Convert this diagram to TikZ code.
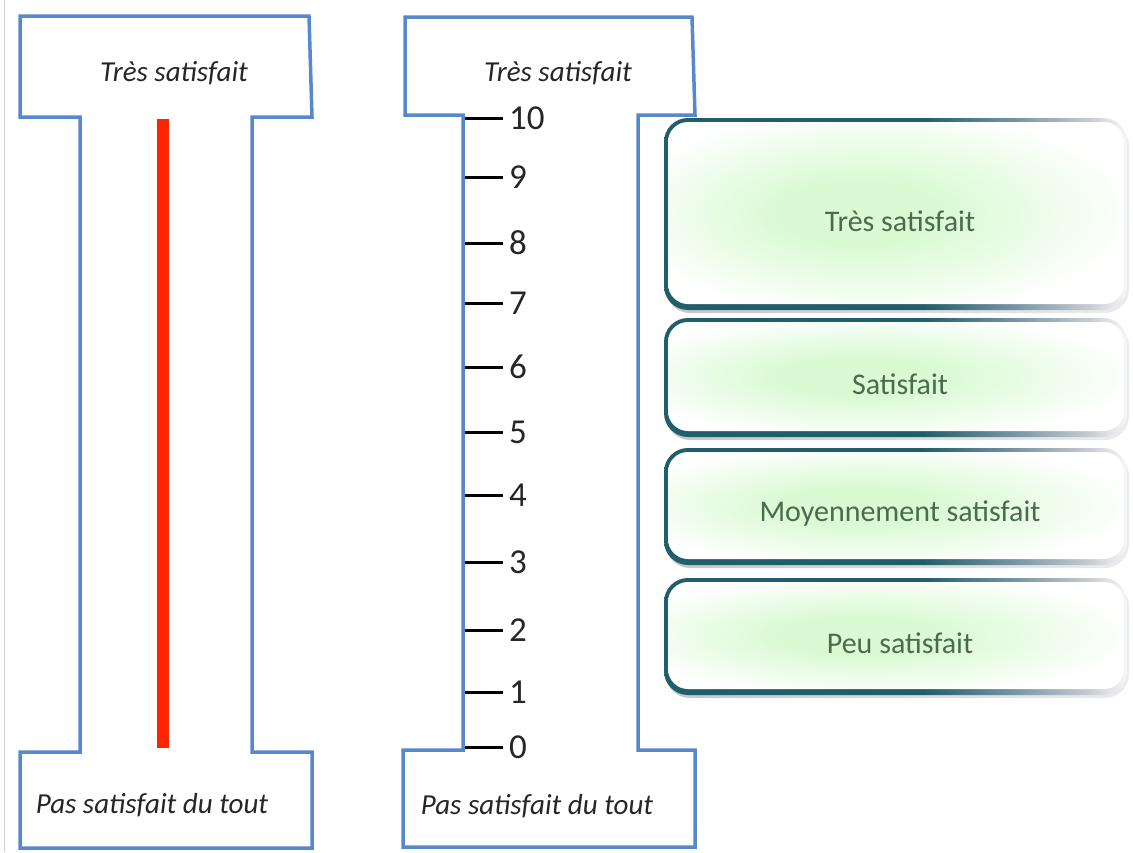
\documentclass[tikz,border=0pt]{standalone}
\usepackage{fontspec}
\setmainfont{Carlito}
\definecolor{iblue}{RGB}{88,136,204}
\definecolor{ired}{RGB}{255,36,0}
\definecolor{bdark}{RGB}{32,94,108}
\definecolor{bmid}{RGB}{120,150,165}
\definecolor{bgray}{RGB}{200,204,210}
\definecolor{gtext}{RGB}{74,108,76}
\definecolor{glow}{RGB}{218,250,212}
\pgfdeclarehorizontalshading{boxborder}{100bp}{color(0bp)=(bdark); color(25bp)=(bdark); color(53bp)=(bdark); color(63bp)=(bmid); color(71bp)=(bgray); color(75bp)=(white!85!bgray); color(100bp)=(white)}
\pgfdeclareradialshading{glowshade}{\pgfpoint{-5bp}{0bp}}{color(0bp)=(glow); color(9bp)=(glow); color(19bp)=(glow!50!white); color(29bp)=(white); color(50bp)=(white)}
\begin{document}
\begin{tikzpicture}[x=1pt,y=-1pt,
  ishape/.style={draw=iblue, line width=3.5pt, line join=miter, fill=white},
  endlabel/.style={font=\fontsize{29}{34}\selectfont\itshape, text=black!85, inner sep=0pt},
  tickmark/.style={line width=3pt, black},
  ticklabel/.style={font=\fontsize{35}{38}\selectfont, anchor=west, inner sep=0pt, text=black!85},
  boxlabel/.style={font=\fontsize{30}{34}\selectfont, text=gtext, inner sep=0pt},
]
\fill[white] (0,0) rectangle (1133,852);
\useasboundingbox (0,0) rectangle (1133,852);
\draw[gray!35, line width=1pt] (4,0) -- (4,852);

% left scale
\draw[ishape] (20,16) -- (309,16) -- (312,117) -- (252,117) -- (252,752) -- (312,752)
  -- (312,848) -- (20,848) -- (20,752) -- (80,752) -- (80,117) -- (20,117) -- cycle;
\draw[ired, line width=12pt] (163,119) -- (163,748);
\node[endlabel] (ltop) at (174,73) {Très satisfait};
\node[endlabel] (lbot) at (152,805) {Pas satisfait du tout};

% right scale
\draw[ishape] (405,17) -- (692,17) -- (695,115) -- (638,115) -- (638,750) -- (695,750)
  -- (695,847) -- (403,847) -- (403,750) -- (463,750) -- (463,115) -- (405,115) -- cycle;
\node[endlabel] (rtop) at (558,73) {Très satisfait};
\node[endlabel] (rbot) at (537,806) {Pas satisfait du tout};
\foreach \i/\yy in {0/747,1/692,2/630,3/562,4/495,5/432,6/367,7/303,8/243,9/177,10/118} {
  \draw[tickmark] (465,\yy) -- (503,\yy);
  \node[ticklabel] (t\i) at (509,\yy) {\i};
}

% category boxes
\foreach \t/\b/\txt/\nm in {118/310/Très satisfait/g1, 318/437/Satisfait/g2, 448/565/Moyennement satisfait/g3, 578/695/Peu satisfait/g4} {
  \shade[left color=gray!45, right color=gray!15, rounded corners=24pt] (666,\t+4) rectangle (1129,\b+3);
  \shade[shading=boxborder, rounded corners=24pt] (664,\t) rectangle (1127,\b);
  \shade[shading=glowshade, rounded corners=20pt] (668,\t+4) rectangle (1124,\b-6);
  \node[boxlabel] (\nm) at (900,{(\t+\b)/2+7}) {\txt};
}
\end{tikzpicture}
\end{document}
